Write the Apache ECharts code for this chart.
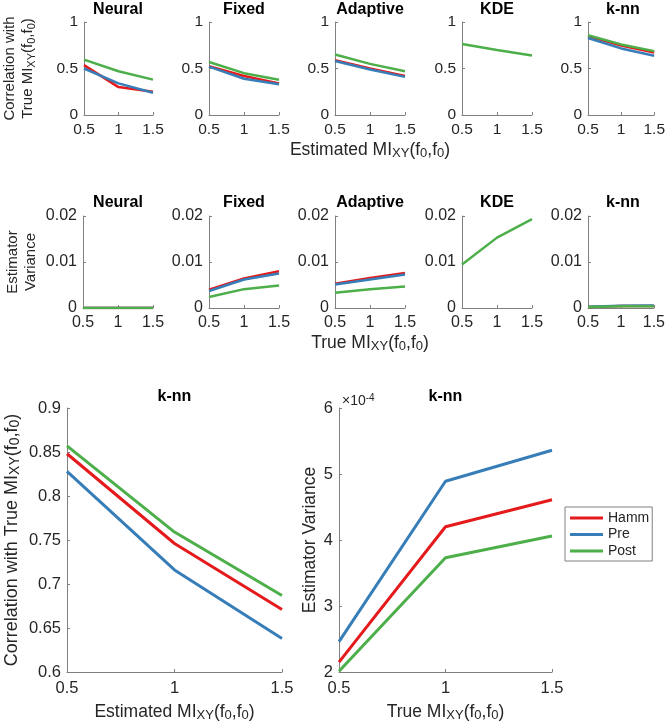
<!DOCTYPE html>
<html>
<head>
<meta charset="utf-8">
<script src="https://cdn.jsdelivr.net/npm/echarts@6/dist/echarts.min.js"></script>
<style>
html, body { margin: 0; padding: 0; background: #fff; }
#main { width: 668px; height: 725px; }
</style>
</head>
<body>
<div id="main"></div>
<script>
var xs = [0.5, 1, 1.5];
var methods = ['Neural', 'Fixed', 'Adaptive', 'KDE', 'k-nn'];
var seriesNames = ['Hamm', 'Pre', 'Post'];
var colors = ['#e41a1c', '#377eb8', '#4daf4a'];

// correlation with true MI, one row per method (Neural, Fixed, Adaptive, KDE, k-nn)
// KDE only shows the Post curve
var corrHamm = [[0.536, 0.30, 0.25], [0.525, 0.42, 0.34], [0.59, 0.50, 0.42], [null, null, null], [0.848, 0.746, 0.671]];
var corrPre  = [[0.50, 0.34, 0.24], [0.52, 0.39, 0.33], [0.58, 0.49, 0.41], [null, null, null], [0.828, 0.716, 0.638]];
var corrPost = [[0.596, 0.47, 0.38], [0.57, 0.45, 0.38], [0.65, 0.55, 0.47], [0.764, 0.70, 0.64], [0.857, 0.759, 0.687]];

// estimator variance, same order
var varHamm = [[0, 0, 0], [0.0040, 0.0064, 0.0080], [0.0053, 0.0065, 0.0076], [null, null, null], [2.15e-4, 4.20e-4, 4.61e-4]];
var varPre  = [[0, 0, 0], [0.0037, 0.0062, 0.0075], [0.0051, 0.0062, 0.0073], [null, null, null], [2.46e-4, 4.89e-4, 5.36e-4]];
var varPost = [[0, 0, 0], [0.0024, 0.0041, 0.0049], [0.0033, 0.0041, 0.0047], [0.00945, 0.0153, 0.0193], [2.01e-4, 3.73e-4, 4.06e-4]];

// axis ranges [min, max, interval]
var xRange = [0.5, 1.5, 0.5];
var corrRange = [0, 1, 0.5];
var varRange = [0, 0.02, 0.01];
var knnCorrRange = [0.6, 0.9, 0.05];
var knnVarRange = [2e-4, 6e-4, 1e-4];

var font = '"Liberation Sans", Arial, Helvetica, sans-serif';
var ink = '#262626';
var axisGrey = '#808080';

function miText(pre) { return pre + 'MI{s|XY}(f{s|0},f{s|0})'; }
function subRich(size) {
  return { s: { fontSize: Math.round(size * 0.75), lineHeight: 3, verticalAlign: 'bottom', fontFamily: font, color: ink } };
}

var grids = [], xAxes = [], yAxes = [], series = [], graphics = [];

function addPanel(p) {
  var i = grids.length;
  grids.push({ left: p.left, top: p.top, width: p.width, height: p.height });
  var x = {
    type: 'value', gridIndex: i, min: xRange[0], max: xRange[1], interval: xRange[2],
    axisLine: { lineStyle: { color: axisGrey, width: 1 } },
    axisTick: { inside: true, length: 3, lineStyle: { color: axisGrey } },
    axisLabel: { color: ink, fontSize: p.fs, fontFamily: font, margin: p.xMargin },
    splitLine: { show: false }
  };
  if (p.xName) {
    x.name = p.xName; x.nameLocation = 'middle'; x.nameGap = p.xGap;
    x.nameTextStyle = { color: ink, fontSize: p.xNameFs, fontFamily: font, lineHeight: 20, rich: subRich(p.xNameFs) };
  }
  xAxes.push(x);
  var y = {
    type: 'value', gridIndex: i, min: p.yr[0], max: p.yr[1], interval: p.yr[2],
    axisLine: { show: true, lineStyle: { color: axisGrey, width: 1 } },
    axisTick: { show: true, inside: true, length: 3, lineStyle: { color: axisGrey } },
    axisLabel: { color: ink, fontSize: p.fs, fontFamily: font, margin: p.yMargin, formatter: p.yFmt },
    splitLine: { show: false }
  };
  if (p.yName) {
    y.name = p.yName; y.nameLocation = 'middle'; y.nameGap = p.yGap; y.nameRotate = 90;
    y.nameTextStyle = { color: ink, fontSize: p.yNameFs, fontFamily: font, lineHeight: p.yNameLh, rich: subRich(p.yNameFs) };
  }
  yAxes.push(y);
  var sets = p.sets;
  for (var s = 0; s < 3; s++) {
    series.push({
      name: seriesNames[s], type: 'line', xAxisIndex: i, yAxisIndex: i,
      data: xs.map(function (xv, k) { return [xv, sets[s][k]]; }),
      showSymbol: false, symbol: 'none', silent: true,
      lineStyle: { color: colors[s], width: p.lw }, itemStyle: { color: colors[s] }
    });
  }
  graphics.push({
    type: 'text', x: p.left + p.width / 2, y: p.titleY, silent: true,
    style: { text: p.title, fill: '#000', font: 'bold 16px ' + font, align: 'center', verticalAlign: 'middle' }
  });
}

var lefts = [83, 209, 335, 462, 588];
for (var m = 0; m < 5; m++) {
  addPanel({
    left: lefts[m], top: 22, width: 70, height: 93, fs: 15.5, lw: 2.5,
    yr: corrRange, xMargin: 7, yMargin: 6, titleY: 10, title: methods[m],
    sets: [corrHamm[m], corrPre[m], corrPost[m]],
    yName: m === 0 ? 'Correlation with\n' + miText('True ') : null, yGap: 47, yNameFs: 15, yNameLh: 18,
    xName: m === 2 ? miText('Estimated ') : null, xGap: 25, xNameFs: 17.5
  });
}
for (var m = 0; m < 5; m++) {
  addPanel({
    left: lefts[m], top: 216, width: 70, height: 92, fs: 16, lw: 2.5,
    yr: varRange, xMargin: 7, yMargin: 6, titleY: 203, title: methods[m],
    sets: [varHamm[m], varPre[m], varPost[m]],
    yName: m === 0 ? 'Estimator\nVariance' : null, yGap: 43, yNameFs: 15, yNameLh: 18,
    xName: m === 2 ? miText('True ') : null, xGap: 25, xNameFs: 17.5
  });
}
addPanel({
  left: 67, top: 408, width: 215, height: 264, fs: 16.5, lw: 3,
  yr: knnCorrRange, xMargin: 8, yMargin: 6, titleY: 397, title: 'k-nn',
  sets: [corrHamm[4], corrPre[4], corrPost[4]],
  yName: 'Correlation with ' + miText('True '), yGap: 45, yNameFs: 18, yNameLh: 20,
  xName: miText('Estimated '), xGap: 30, xNameFs: 17.5
});
addPanel({
  left: 339, top: 408, width: 213, height: 264, fs: 16.5, lw: 3,
  yr: knnVarRange, xMargin: 8, yMargin: 6, titleY: 397, title: 'k-nn',
  yFmt: function (v) { return String(Math.round(v * 1e4)); },
  sets: [varHamm[4], varPre[4], varPost[4]],
  yName: 'Estimator Variance', yGap: 17, yNameFs: 17.5, yNameLh: 20,
  xName: miText('True '), xGap: 30, xNameFs: 17.5
});

graphics.push({
  type: 'text', x: 342, y: 401, silent: true,
  style: {
    text: '×10{p|-4}', fill: ink, fontSize: 14, fontFamily: font, lineHeight: 16,
    align: 'left', verticalAlign: 'middle',
    rich: { p: { fontSize: 10, lineHeight: 8, verticalAlign: 'top', fontFamily: font, color: ink } }
  }
});

var chart = echarts.init(document.getElementById('main'));
chart.setOption({
  animation: false,
  backgroundColor: '#fff',
  grid: grids,
  xAxis: xAxes,
  yAxis: yAxes,
  series: series,
  graphic: graphics,
  legend: {
    data: seriesNames, orient: 'vertical', left: 565, top: 507,
    icon: 'rect', itemWidth: 33, itemHeight: 3, itemGap: 2.5,
    padding: [4, 3, 3, 5], borderColor: axisGrey, borderWidth: 1,
    selectedMode: false,
    textStyle: { color: ink, fontSize: 14, fontFamily: font, lineHeight: 14 }
  }
});
</script>
</body>
</html>
